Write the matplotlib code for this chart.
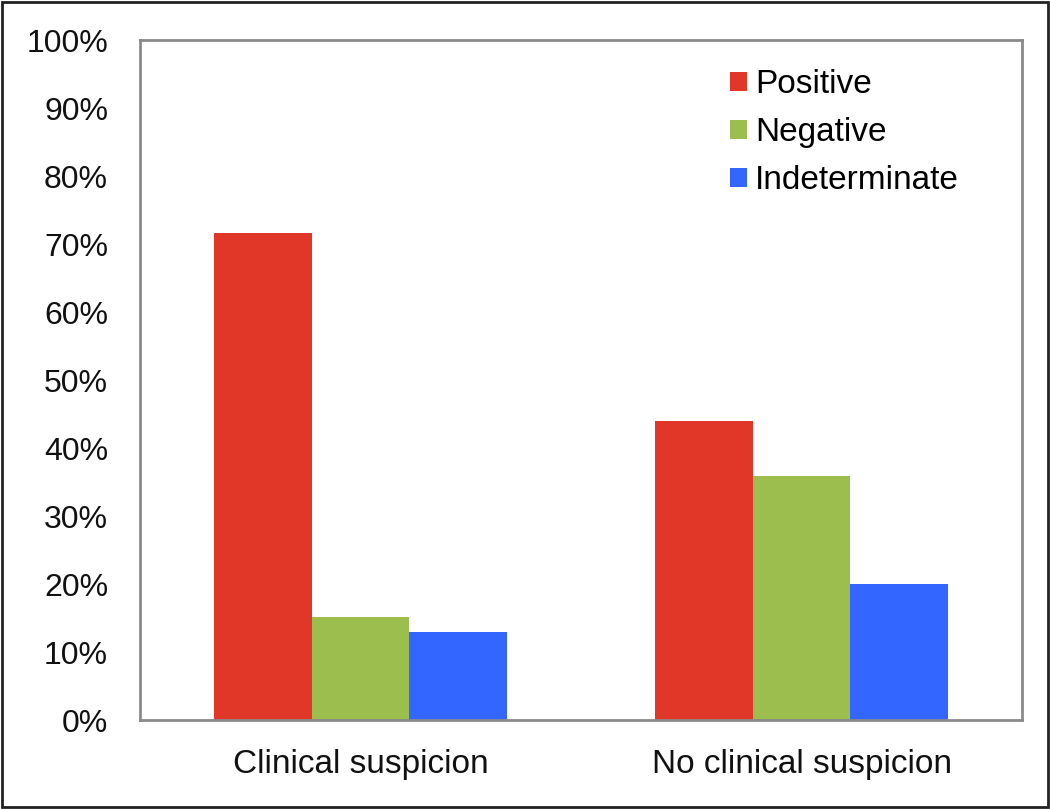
import numpy as np
import matplotlib.pyplot as plt
from matplotlib.patches import Rectangle
from matplotlib.ticker import PercentFormatter

plt.rcParams['font.family'] = ['Liberation Sans', 'DejaVu Sans']

# Data
groups = ['Clinical suspicion', 'No clinical suspicion']
series = ['Positive', 'Negative', 'Indeterminate']
positive = [71.6, 43.9]
negative = [15.2, 35.9]
indeterminate = [13.0, 20.0]
colors = ['#E03728', '#9BBE4E', '#3366FF']

fig = plt.figure(figsize=(10.5, 8.09), dpi=100)
ax = fig.add_axes([140 / 1050, 1 - 720 / 809, 882 / 1050, 680 / 809])

x = np.arange(len(groups))
w = 0.222
for i, (vals, c, lab) in enumerate(zip([positive, negative, indeterminate], colors, series)):
    ax.bar(x + (i - 1) * w, vals, width=w, color=c, label=lab, zorder=2)

ax.set_xlim(-0.5, 1.5)
ax.set_ylim(0, 100)
ax.set_yticks(np.arange(0, 101, 10))
ax.yaxis.set_major_formatter(PercentFormatter(decimals=0))
ax.set_xticks(x)
ax.set_xticklabels(groups)
ax.tick_params(axis='both', length=0, colors='#111111')
ax.tick_params(axis='y', pad=23, labelsize=23)
ax.tick_params(axis='x', pad=21, labelsize=24)
for s in ax.spines.values():
    s.set_color('#8a8a8a')
    s.set_linewidth(2)

leg = ax.legend(loc='upper left', bbox_to_anchor=(730 / 1050, 1 - 69 / 809),
                bbox_transform=fig.transFigure, frameon=False,
                fontsize=24, handlelength=0.5, handleheight=0.5,
                handletextpad=0.25, labelspacing=0.51,
                borderpad=0, borderaxespad=0)

# outer frame around the whole picture
fig.patches.append(Rectangle((0.002, 0.003), 0.996, 0.994, transform=fig.transFigure,
                             fill=False, edgecolor='#222222', linewidth=2))

fig.savefig('out.png', dpi=100)
